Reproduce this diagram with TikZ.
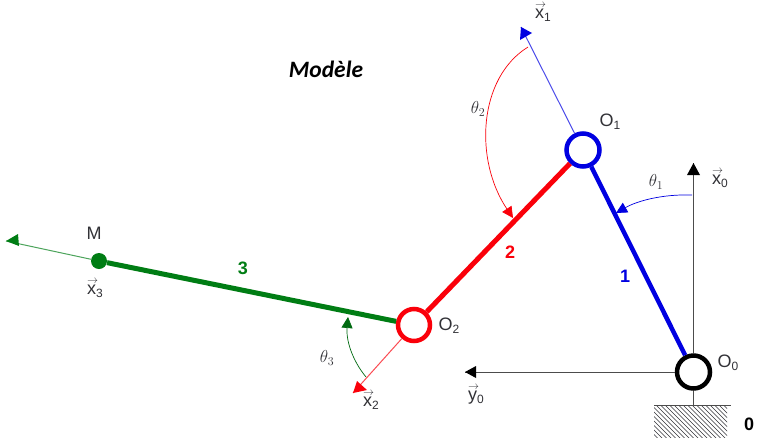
\documentclass[tikz,border=0pt]{standalone}
\usepackage{fontspec}
\setmainfont{Liberation Sans}
\newfontfamily\titlefont{Carlito}
\usetikzlibrary{arrows.meta}
\DeclareMathSizes{18}{18}{13}{9}
\definecolor{lblue}{RGB}{0,0,225}
\definecolor{lred}{RGB}{250,0,10}
\definecolor{lgreen}{RGB}{0,125,20}
\definecolor{ink}{RGB}{50,50,55}
\newcommand{\vecx}[2]{\rlap{\raisebox{11pt}{\fontsize{11}{11}\selectfont$\rightarrow$}}#1\raisebox{-3pt}{\fontsize{12}{12}\selectfont #2}}
\newcommand{\ptn}[2]{#1\raisebox{-3pt}{\fontsize{12}{12}\selectfont #2}}
\tikzset{
  x=1pt,y=-1pt,
  joint/.style={circle,draw,fill=white,inner sep=0pt,minimum size=#1},
  link/.style={line width=5pt},
  axis/.style={line width=1pt},
  angarc/.style={line width=0.7pt,-{Triangle[length=11pt,width=11pt]}},
  lab/.style={text=ink,font=\fontsize{18}{18}\selectfont,inner sep=0pt},
  numlab/.style={font=\fontsize{18}{18}\selectfont\bfseries,inner sep=0pt}
}
\begin{document}
\begin{tikzpicture}
\useasboundingbox (0,0) rectangle (759,440);
\fill[white] (0,0) rectangle (759,440);
% free ends
\coordinate (tx0) at (693.5,163);
\coordinate (ty0) at (465,372);
\coordinate (tx1) at (521,27);
\coordinate (tx2) at (353,393);
\coordinate (tx3) at (6,241);
\coordinate (gnd) at (693.5,405);
\coordinate (gndL) at (654,405);
\coordinate (gndR) at (731,405);
\coordinate (a1s) at (692,195);
\coordinate (a1e) at (616,213);
\coordinate (a2s) at (528,47);
\coordinate (a2e) at (513,218);
\coordinate (a3s) at (366,377);
\coordinate (a3e) at (348,317);
% hatching
\begin{scope}
\clip (654,405) rectangle (727,437);
\foreach \i in {0,4.5,...,114}
  \draw[line width=0.7pt,ink] (620+\i,405) -- +(40,40);
\end{scope}
% joints
\node[joint=33pt,line width=4.5pt,draw=black] (O0) at (693.5,372) {};
\node[joint=33pt,line width=4.5pt,draw=lblue] (O1) at (583,150) {};
\node[joint=32pt,line width=4.5pt,draw=lred] (O2) at (414,325) {};
\node[circle,fill=lgreen,inner sep=0pt,minimum size=16pt] (M) at (99,261) {};
% axes
\draw[axis,black!70] (O0) -- (tx0);
\draw[axis,black!70] (O0) -- (ty0);
\draw[axis,black!70] (O0) -- (gnd);
\draw[axis,black!70] (gndL) -- (gndR);
\draw[axis,lblue!70!white] (O1) -- (tx1);
\draw[axis,lred!70!white] (O2) -- (tx2);
\draw[axis,lgreen!70!white] (M) -- (tx3);
\fill[black] (693.5,163) -- (687,175) -- (700,175) -- cycle;
\fill[black] (465,372) -- (476,366) -- (476,378) -- cycle;
\fill[lblue] (521,27) -- (520,40) -- (532,33) -- cycle;
\fill[lred] (353,393) -- (367,390) -- (357,381) -- cycle;
\fill[lgreen] (6,241) -- (19,246) -- (18,234) -- cycle;
% links
\draw[link,lblue,line width=4.5pt] (O1) -- (O0);
\draw[link,lred] (O2) -- (O1);
\draw[link,lgreen] (M) -- (O2);
% angle arcs
\draw[angarc,lblue] (a1s) .. controls (662,194) and (637,201) .. (a1e);
\draw[angarc,lred] (a2s) .. controls (478,78) and (474,160) .. (a2e);
\draw[angarc,lgreen!85!black] (a3s) .. controls (352,360) and (346,340) .. (a3e);
% labels
\node[font=\titlefont\fontsize{23.5}{23.5}\selectfont\bfseries\itshape,inner sep=0pt] (title) at (326,69) {Modèle};
\node[lab] (lx0) at (720,179) {\vecx{x}{0}};
\node[lab] (ly0) at (476,395) {\vecx{y}{0}};
\node[lab] (lx1) at (543,12) {\vecx{x}{1}};
\node[lab] (lx2) at (371,400) {\vecx{x}{2}};
\node[lab] (lx3) at (95,289) {\vecx{x}{3}};
\node[lab] (lO0) at (728,363) {\ptn{O}{0}};
\node[lab] (lO1) at (610,122) {\ptn{O}{1}};
\node[lab] (lO2) at (449,326) {\ptn{O}{2}};
\node[lab] (lM) at (94,233) {M};
\node[lab] (lt1) at (656,182) {$\theta_1$};
\node[lab] (lt2) at (478,109) {$\theta_2$};
\node[lab] (lt3) at (327,358) {$\theta_3$};
\node[numlab,lblue] (n1) at (625,276) {1};
\node[numlab,lred] (n2) at (510,252) {2};
\node[numlab,lgreen] (n3) at (243,268) {3};
\node[numlab,black] (n0) at (749,424) {0};
\end{tikzpicture}
\end{document}
